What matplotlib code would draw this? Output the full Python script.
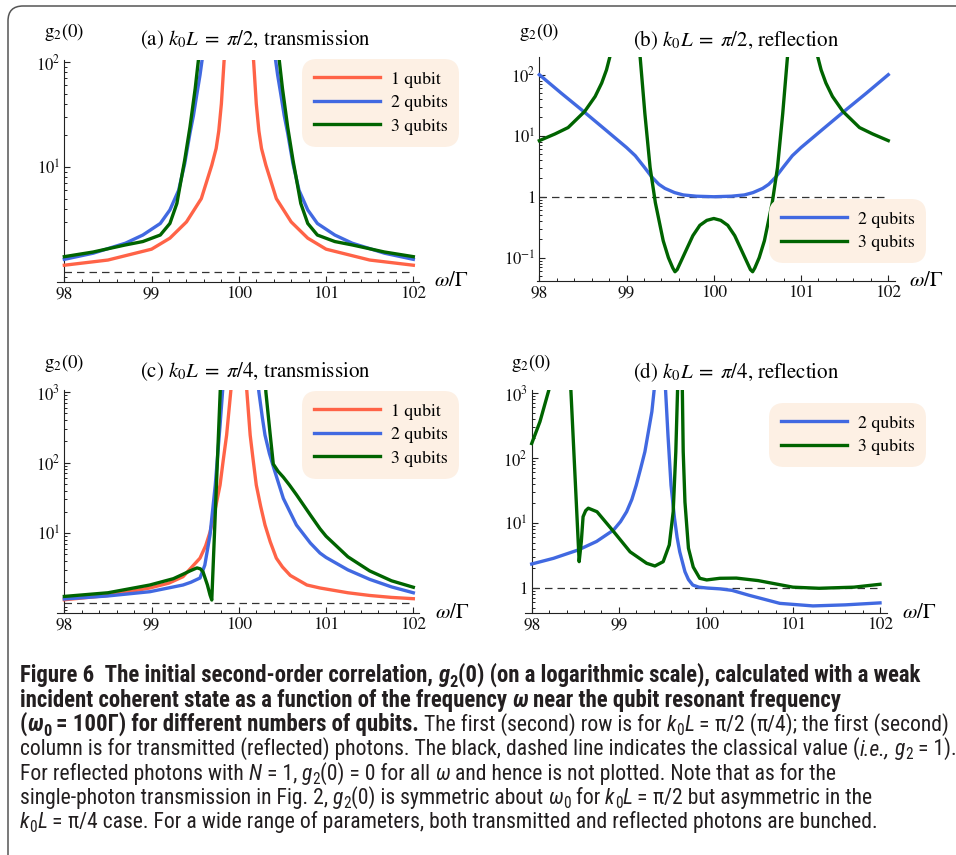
import matplotlib
matplotlib.use('Agg')
import matplotlib.pyplot as plt
from matplotlib.lines import Line2D
from matplotlib.patches import FancyBboxPatch
from matplotlib.ticker import FixedLocator, FixedFormatter, NullFormatter, MultipleLocator

W, H, DPI = 956, 855, 100
plt.rcParams['mathtext.fontset'] = 'stix'
plt.rcParams['font.family'] = ['STIXGeneral', 'DejaVu Serif']

# ---------------- data ----------------
X_TICKS = [98, 99, 100, 101, 102]
CLASSICAL = 1.0
LABELS = ['1 qubit', '2 qubits', '3 qubits']
COLORS = ['#FF6347', '#4169E1', '#006400']

# (a) k0L = pi/2, transmission
A_RED_X = [98.0, 98.5, 99.0, 99.21, 99.4, 99.57, 99.69, 99.74, 99.77, 99.8, 99.83, 99.86,
           100.14, 100.17, 100.2, 100.23, 100.26, 100.31, 100.43, 100.6, 100.79, 101.0, 101.5, 102.0]
A_RED_Y = [1.16, 1.3, 1.65, 2.1, 3.0, 5.0, 10.4, 15, 22, 40, 100, 220,
           220, 100, 40, 22, 15, 10.4, 5.0, 3.0, 2.1, 1.65, 1.3, 1.16]
A_BLUE_X = [98.0, 98.33, 98.7, 98.9, 99.1, 99.21, 99.31, 99.38, 99.44, 99.48, 99.52, 99.555, 99.6, 99.63,
            100.37, 100.4, 100.445, 100.48, 100.52, 100.56, 100.62, 100.69, 100.79, 100.9, 101.1, 101.3, 101.67, 102.0]
A_BLUE_Y = [1.32, 1.51, 1.88, 2.25, 2.9, 3.9, 6.0, 10.8, 21, 31, 50, 75, 140, 250,
            250, 140, 75, 50, 31, 21, 10.8, 6.0, 3.9, 2.9, 2.25, 1.88, 1.51, 1.32]
A_GREEN_X = [98.0, 98.33, 98.7, 98.9, 99.1, 99.21, 99.29, 99.345, 99.38, 99.44, 99.5, 99.54, 99.57,
             100.43, 100.46, 100.5, 100.56, 100.62, 100.655, 100.71, 100.79, 100.9, 101.1, 101.3, 101.67, 102.0]
A_GREEN_Y = [1.4, 1.55, 1.81, 1.95, 2.25, 2.9, 4.5, 8.1, 11.7, 24, 56, 110, 200,
             200, 110, 56, 24, 11.7, 8.1, 4.5, 2.9, 2.25, 1.95, 1.81, 1.55, 1.4]

# (b) k0L = pi/2, reflection
B_BLUE_X = [98.0, 98.25, 98.5, 98.75, 99.0, 99.1, 99.2, 99.29, 99.37, 99.44, 99.55, 99.65, 99.8, 100.0,
            100.2, 100.35, 100.45, 100.56, 100.63, 100.71, 100.8, 100.9, 101.0, 101.25, 101.5, 101.75, 102.0]
B_BLUE_Y = [100, 50, 25.5, 12.8, 6.4, 4.7, 3.1, 2.1, 1.6, 1.37, 1.17, 1.07, 1.02, 1.0,
            1.02, 1.07, 1.17, 1.37, 1.6, 2.1, 3.1, 4.7, 6.4, 12.8, 25.5, 50, 100]
B_GREEN_X = [98.0, 98.18, 98.33, 98.52, 98.64, 98.715, 98.77, 98.81, 98.84,
             99.13, 99.155, 99.21, 99.27, 99.33, 99.38, 99.42, 99.48, 99.53, 99.555, 99.58, 99.62,
             99.69, 99.76, 99.84, 99.92, 100.0,
             100.08, 100.16, 100.24, 100.31, 100.38, 100.42, 100.445, 100.47, 100.52, 100.58, 100.62,
             100.67, 100.73, 100.79, 100.845, 100.87,
             101.16, 101.19, 101.23, 101.285, 101.36, 101.48, 101.67, 101.82, 102.0]
B_GREEN_Y = [8.3, 10.7, 13.6, 25, 44, 73, 120, 200, 400,
             400, 200, 23, 3.0, 0.8, 0.36, 0.19, 0.1, 0.068, 0.059, 0.064, 0.085,
             0.14, 0.23, 0.34, 0.41, 0.44,
             0.41, 0.34, 0.23, 0.14, 0.085, 0.064, 0.059, 0.068, 0.1, 0.19, 0.36,
             0.8, 3.0, 23, 200, 400,
             400, 200, 120, 73, 44, 25, 13.6, 10.7, 8.3]

# (c) k0L = pi/4, transmission
C_RED_X = [98.0, 98.5, 98.98, 99.2, 99.36, 99.555, 99.62, 99.67, 99.73, 99.785, 99.82, 99.86, 99.91, 99.95,
           100.05, 100.09, 100.13, 100.16, 100.2, 100.25, 100.3, 100.36, 100.43, 100.5, 100.59, 100.78,
           100.93, 101.25, 101.5, 101.75, 102.0]
C_RED_Y = [1.13, 1.3, 1.66, 1.95, 2.4, 4.4, 6.6, 10.3, 22, 48, 105, 245, 1100, 3000,
           3000, 1100, 245, 120, 48, 24, 13, 7.5, 4.4, 3.3, 2.5, 1.83,
           1.66, 1.42, 1.3, 1.22, 1.17]
C_BLUE_X = [98.0, 98.5, 98.98, 99.36, 99.45, 99.555, 99.61, 99.67, 99.73, 99.785, 99.82, 99.85,
            100.19, 100.23, 100.27, 100.3, 100.35, 100.4, 100.51, 100.66, 100.82, 100.93, 101.0,
            101.25, 101.5, 101.75, 102.0]
C_BLUE_Y = [1.16, 1.28, 1.47, 1.83, 2.0, 2.3, 3.5, 9.4, 48, 340, 1300, 3000,
            3000, 1000, 430, 245, 135, 84, 31, 13, 7.2, 5.2, 4.5,
            3.0, 2.2, 1.72, 1.42]
C_GREEN_X = [98.0, 98.5, 98.98, 99.25, 99.36, 99.44, 99.52, 99.56, 99.59, 99.64, 99.67, 99.69, 99.79,
             100.29, 100.31, 100.36, 100.395, 100.45, 100.51, 100.58, 100.66, 100.82, 100.93, 101.0,
             101.25, 101.5, 101.75, 102.0]
C_GREEN_Y = [1.26, 1.42, 1.83, 2.25, 2.6, 2.9, 3.2, 3.1, 2.8, 1.83, 1.32, 1.12, 1300,
             3000, 1000, 245, 95, 75, 62, 48, 35, 18, 11.5, 9.0,
             4.6, 2.9, 2.1, 1.7]

# (d) k0L = pi/4, reflection
D_BLUE_X = [98.0, 98.25, 98.535, 98.745, 98.94, 99.02, 99.09, 99.15, 99.2, 99.25, 99.3, 99.38, 99.44,
            99.52, 99.565, 99.6, 99.64, 99.67, 99.7, 99.76, 99.8, 99.85, 99.92, 100.01, 100.16, 100.3,
            100.5, 100.85, 101.23, 101.6, 102.0]
D_BLUE_Y = [2.34, 2.86, 3.85, 5.2, 7.8, 10.5, 14.9, 23, 38, 68, 125, 516, 3000,
            3000, 225, 38, 11.8, 6.0, 3.6, 1.78, 1.35, 1.11, 1.03, 1.0, 0.97, 0.92,
            0.77, 0.58, 0.53, 0.55, 0.59]
D_GREEN_X = [98.0, 98.095, 98.2, 98.23, 98.43, 98.45, 98.545, 98.57, 98.59, 98.62, 98.65, 98.75,
             98.94, 99.13, 99.32, 99.415, 99.51, 99.58, 99.625, 99.655, 99.675, 99.69, 99.715, 99.73,
             99.74, 99.76, 99.8, 99.855, 99.93, 100.01, 100.16, 100.35, 100.6, 101.0, 101.3, 101.7, 102.0]
D_GREEN_Y = [167, 363, 1150, 3000, 3000, 1100, 2.54, 5.2, 12.5, 15.5, 16.9, 14.9,
             7.4, 3.6, 2.4, 2.18, 2.54, 4.6, 14.9, 125, 1100, 3000, 3000, 1100,
             125, 21, 4.1, 2.1, 1.41, 1.33, 1.41, 1.42, 1.3, 1.03, 0.99, 1.03, 1.14]

# ---------------- figure ----------------
fig = plt.figure(figsize=(W / DPI, H / DPI), dpi=DPI)
fig.patch.set_facecolor('white')


def frac(x, y):
    return x / W, 1 - y / H


LW = 2.4
PANELS = [
    dict(rect=(57, 60, 419, 282), xlim=(97.916, 102.065), ylim=(0.803, 104.5),
         yt=[10, 100], ytl=['$10^{1}$', '$10^{2}$'],
         series=[(A_RED_X, A_RED_Y, 0), (A_BLUE_X, A_BLUE_Y, 1), (A_GREEN_X, A_GREEN_Y, 2)],
         title=r'(a) $k_0L\;=\;\pi/2$, transmission', txy=(255, 40), gxy=(64, 32), wxy=(451, 281), leg=(302, 59)),
    dict(rect=(536.7, 57, 895, 281), xlim=(97.97, 102.077), ylim=(0.0416, 195),
         yt=[0.1, 1, 10, 100], ytl=['$10^{-1}$', '$1$', '$10^{1}$', '$10^{2}$'],
         series=[(B_BLUE_X, B_BLUE_Y, 1), (B_GREEN_X, B_GREEN_Y, 2)],
         title=r'(b) $k_0L\;=\;\pi/2$, reflection', txy=(736, 40), gxy=(539, 32), wxy=(926, 281), leg=(769, 199)),
    dict(rect=(57, 390, 419, 613.3), xlim=(97.916, 102.065), ylim=(0.726, 1070),
         yt=[10, 100, 1000], ytl=['$10^{1}$', '$10^{2}$', '$10^{3}$'],
         series=[(C_RED_X, C_RED_Y, 0), (C_BLUE_X, C_BLUE_Y, 1), (C_GREEN_X, C_GREEN_Y, 2)],
         title=r'(c) $k_0L\;=\;\pi/4$, transmission', txy=(255, 372), gxy=(64, 363), wxy=(452, 613), leg=(302, 391)),
    dict(rect=(525, 390, 886.7, 613.3), xlim=(97.923, 102.077), ylim=(0.408, 1112),
         yt=[1, 10, 100, 1000], ytl=['$1$', '$10^{1}$', '$10^{2}$', '$10^{3}$'],
         series=[(D_BLUE_X, D_BLUE_Y, 1), (D_GREEN_X, D_GREEN_Y, 2)],
         title=r'(d) $k_0L\;=\;\pi/4$, reflection', txy=(736, 372), gxy=(531, 363), wxy=(919, 613), leg=(769, 403)),
]

AX_COL = '#222222'
for p in PANELS:
    l, t, r, b = p['rect']
    ax = fig.add_axes([l / W, 1 - b / H, (r - l) / W, (b - t) / H])
    ax.set_facecolor('none')
    for xs, ys, ci in p['series']:
        ax.plot(xs, ys, color=COLORS[ci], lw=LW, solid_joinstyle='round', zorder=3)
    ax.plot([X_TICKS[0], X_TICKS[-1]], [CLASSICAL, CLASSICAL], color='#333333', lw=0.9,
            dashes=(6, 4), zorder=2)
    ax.set_yscale('log')
    ax.set_xlim(*p['xlim'])
    ax.set_ylim(*p['ylim'])
    for s in ['top', 'right']:
        ax.spines[s].set_visible(False)
    ax.spines['left'].set_position(('data', X_TICKS[0]))
    for s in ['left', 'bottom']:
        ax.spines[s].set_color(AX_COL)
        ax.spines[s].set_linewidth(0.8)
    ax.xaxis.set_major_locator(FixedLocator(X_TICKS))
    ax.xaxis.set_major_formatter(FixedFormatter([str(v) for v in X_TICKS]))
    ax.xaxis.set_minor_locator(MultipleLocator(0.2))
    ax.yaxis.set_major_locator(FixedLocator(p['yt']))
    ax.yaxis.set_major_formatter(FixedFormatter(p['ytl']))
    minors = []
    for e in range(-3, 4):
        for s in range(1, 10):
            v = s * 10.0 ** e
            if p['ylim'][0] <= v <= p['ylim'][1] and v not in p['yt']:
                minors.append(v)
    ax.yaxis.set_minor_locator(FixedLocator(minors))
    ax.yaxis.set_minor_formatter(NullFormatter())
    ax.tick_params(which='major', direction='in', length=4.5, width=0.8, color=AX_COL,
                   labelsize=12, pad=3, labelcolor='#111111')
    ax.tick_params(axis='x', which='major', labelsize=12.5)
    ax.tick_params(which='minor', direction='in', length=2.4, width=0.7, color=AX_COL)
    handles = [Line2D([], [], color=COLORS[ci], lw=LW) for _, _, ci in p['series']]
    labels = [LABELS[ci] for _, _, ci in p['series']]
    leg = ax.legend(handles, labels, loc='upper left', bbox_to_anchor=frac(*p['leg']),
                    bbox_transform=fig.transFigure, frameon=True, fancybox=True,
                    facecolor='#FDF0E4', edgecolor='none', framealpha=1, fontsize=12.8,
                    handlelength=3.7, handletextpad=0.6, labelspacing=0.4,
                    borderpad=0.68, borderaxespad=0)
    leg.get_frame().set_boxstyle('round,pad=0,rounding_size=0.85')
    fig.text(*frac(*p['txy']), p['title'], ha='center', va='center', fontsize=15)
    fig.text(*frac(*p['gxy']), r'$\mathrm{g}_2(0)$', ha='center', va='center', fontsize=13.5)
    fig.text(*frac(*p['wxy']), r'$\omega/\Gamma$', ha='center', va='center', fontsize=15)

# frame
frame = FancyBboxPatch((0.08, -1.0), 12, 9.49, boxstyle='round,pad=0,rounding_size=0.15',
                       transform=fig.dpi_scale_trans, fill=False, ec='#555555', lw=1.1)
fig.add_artist(frame)

# ---------------- caption ----------------
CAP_FAMILY = ['Roboto Condensed', 'Liberation Sans Narrow', 'Roboto', 'DejaVu Sans']
CAPTION = [
    [("Figure 6  The initial second-order correlation, ", 'B'), ("g", 'BI'), ("2", 'Bsub'),
     ("(0) (on a logarithmic scale), calculated with a weak", 'B')],
    [("incident coherent state as a function of the frequency ", 'B'), ("ω", 'BI'),
     (" near the qubit resonant frequency", 'B')],
    [("(", 'B'), ("ω", 'BI'), ("0", 'Bsub'), (" = 100Γ) for different numbers of qubits.", 'B'),
     (" The first (second) row is for ", 'R'), ("k", 'I'), ("0", 'sub'), ("L", 'I'), (" = ", 'R'),
     ("π", 'R'), ("/2 (", 'R'), ("π", 'R'), ("/4); the first (second)", 'R')],
    [("column is for transmitted (reflected) photons. The black, dashed line indicates the classical value (", 'R'),
     ("i.e.,", 'I'), (" ", 'R'), ("g", 'I'), ("2", 'sub'), (" = 1).", 'R')],
    [("For reflected photons with ", 'R'), ("N", 'I'), (" = 1, ", 'R'), ("g", 'I'), ("2", 'sub'),
     ("(0) = 0 for all ", 'R'), ("ω", 'I'), (" and hence is not plotted. Note that as for the", 'R')],
    [("single-photon transmission in Fig. 2, ", 'R'), ("g", 'I'), ("2", 'sub'),
     ("(0) is symmetric about ", 'R'), ("ω", 'I'), ("0", 'sub'), (" for ", 'R'), ("k", 'I'), ("0", 'sub'),
     ("L", 'I'), (" = ", 'R'), ("π", 'R'), ("/2 but asymmetric in the", 'R')],
    [("k", 'I'), ("0", 'sub'), ("L", 'I'), (" = ", 'R'), ("π", 'R'),
     ("/4 case. For a wide range of parameters, both transmitted and reflected photons are bunched.", 'R')],
]
BASELINES = [682, 706.5, 731, 755, 779.5, 804, 828]
CAP_X = 20

fig.canvas.draw()
renderer = fig.canvas.get_renderer()


def props(kind, fs_b, fs_r):
    bold = kind.startswith('B')
    fs = fs_b if bold else fs_r
    sub = kind.endswith('sub')
    return dict(fontweight='bold' if bold else 'normal',
                fontstyle='italic' if 'I' in kind else 'normal',
                fontsize=fs * (0.72 if sub else 1.0), family=CAP_FAMILY, color='#231F20')


def advance(s, pr):
    t1 = fig.text(0, 0, '|' + s + '|', **pr)
    w1 = t1.get_window_extent(renderer).width
    t1.remove()
    t2 = fig.text(0, 0, '||', **pr)
    w2 = t2.get_window_extent(renderer).width
    t2.remove()
    return w1 - w2


def line_width(runs, fs_b, fs_r):
    return sum(advance(s, props(k, fs_b, fs_r)) for s, k in runs)


fs_b = 10 * 905 / line_width(CAPTION[0], 10, 10)
fs_r = 10 * 931 / line_width(CAPTION[3], 10, 10)

for runs, base in zip(CAPTION, BASELINES):
    x = CAP_X
    for s, k in runs:
        pr = props(k, fs_b, fs_r)
        lead = len(s) - len(s.lstrip(' '))
        body = s.lstrip(' ')
        xo = x + (advance(' ' * lead, pr) if lead else 0)
        dy = (pr['fontsize'] / 0.72) * 0.28 if k.endswith('sub') else 0
        if body:
            fig.text(xo / W, 1 - (base + dy) / H, body, ha='left', va='baseline', **pr)
        x += advance(s, pr)

fig.savefig('out.png', dpi=DPI, facecolor='white')
